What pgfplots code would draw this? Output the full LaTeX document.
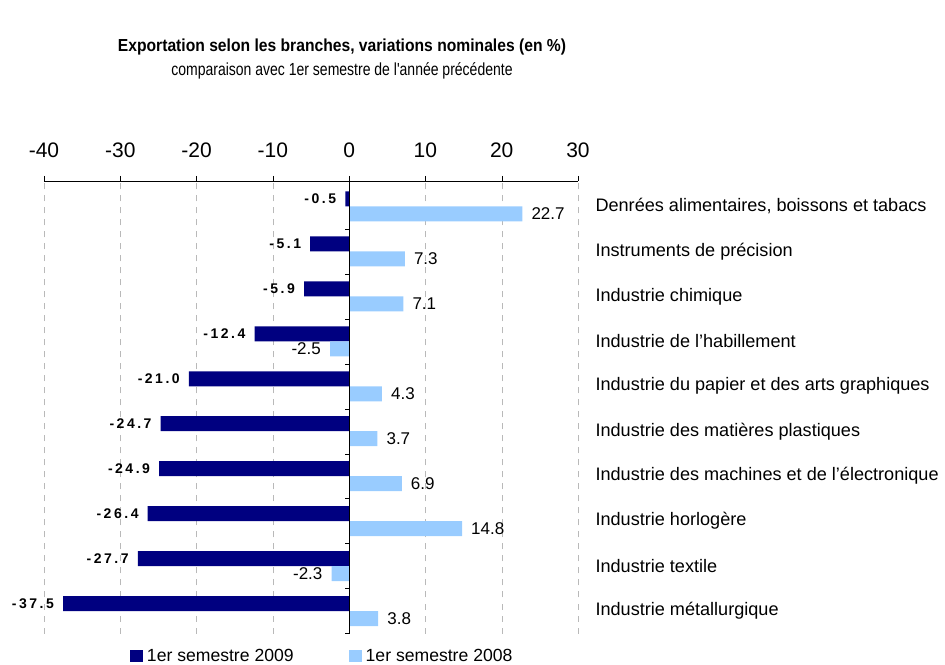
\documentclass[border=0pt]{standalone}
\usepackage{pgfplots}
\pgfplotsset{compat=1.18}
\usepackage{fontspec}
\setmainfont{Liberation Sans}
\newfontfamily\valfont[LetterSpace=18]{Liberation Sans Bold}
\newfontfamily\titlefont[FakeStretch=0.9]{Liberation Sans}
\newfontfamily\subfont[FakeStretch=0.8]{Liberation Sans}
\definecolor{navyb}{RGB}{0,0,128}
\definecolor{lightb}{RGB}{153,204,255}
\begin{document}
\begin{tikzpicture}[x=1pt,y=1pt]
\path[use as bounding box] (0,0) rectangle (945,664);
\node[font=\titlefont\fontsize{17.4}{19}\selectfont\bfseries] at (342,617) {Exportation selon les branches, variations nominales (en \%)};
\node[font=\subfont\fontsize{17.5}{19}\selectfont] at (342,593) {comparaison avec 1er semestre de l'année précédente};
\begin{axis}[
  at={(44pt,30.5pt)}, anchor=south west,
  scale only axis, width=534pt, height=452.5pt,
  clip=false,
  xmin=-40, xmax=30, ymin=-0.5, ymax=9.567,
  axis x line*=top, axis y line*=right,
  y axis line style={draw=none},
  xtick={-40,-30,...,30},
  tick align=outside, major tick length=5pt,
  xtick style={black, thin},
  x axis line style={black, thin},
  xticklabel style={font=\fontsize{21}{23}\selectfont, yshift=15pt},
  /pgf/number format/assume math mode=true,
  xmajorgrids, grid style={gray!55, dash pattern=on 6pt off 6pt},
  ytick={0,...,9},
  yticklabels={Industrie métallurgique, Industrie textile, Industrie horlogère, Industrie des machines et de l'électronique, Industrie des matières plastiques, Industrie du papier et des arts graphiques, Industrie de l'habillement, Industrie chimique, Instruments de précision, {Denrées alimentaires, boissons et tabacs}},
  ytick style={draw=none},
  yticklabel style={font=\fontsize{18.1}{20}\selectfont, xshift=9pt},
  xbar, bar width=15pt,
  point meta=x,
  nodes near coords={\pgfmathprintnumber[fixed,fixed zerofill,precision=1]{\pgfplotspointmeta}},
  legend style={draw=none, legend columns=2, at={(axis description cs:0.155,-0.049)}, anchor=west, font=\fontsize{17.6}{19}\selectfont, /tikz/every even column/.append style={column sep=53pt}},
  legend image code/.code={\fill[#1] (0pt,-6pt) rectangle (13pt,6pt);},
]
\addplot[draw=none, fill=navyb, bar shift=0pt,
  every node near coord/.append style={font=\valfont\fontsize{14}{16}\selectfont, inner xsep=9pt, inner ysep=0pt, black}]
  coordinates {(-0.5,9.167) (-5.1,8.167) (-5.9,7.167) (-12.4,6.167) (-21.0,5.167) (-24.7,4.167) (-24.9,3.167) (-26.4,2.167) (-27.7,1.167) (-37.5,0.167)};
\addplot[draw=none, fill=lightb, bar shift=0pt,
  every node near coord/.append style={font=\fontsize{17}{19}\selectfont, inner xsep=9pt, inner ysep=0pt, black}]
  coordinates {(22.7,8.833) (7.3,7.833) (7.1,6.833) (-2.5,5.833) (4.3,4.833) (3.7,3.833) (6.9,2.833) (14.8,1.833) (-2.3,0.833) (3.8,-0.167)};
\legend{\hspace{2pt}1er semestre 2009, \hspace{2pt}1er semestre 2008}
\draw[black, thin] (axis cs:0,-0.5) -- (axis cs:0,9.567);
\draw[black, thin] (axis cs:0,-0.5) -- ([xshift=-4pt]axis cs:0,-0.5);
\draw[black, thin] (axis cs:0,0.5) -- ([xshift=-4pt]axis cs:0,0.5);
\draw[black, thin] (axis cs:0,1.5) -- ([xshift=-4pt]axis cs:0,1.5);
\draw[black, thin] (axis cs:0,2.5) -- ([xshift=-4pt]axis cs:0,2.5);
\draw[black, thin] (axis cs:0,3.5) -- ([xshift=-4pt]axis cs:0,3.5);
\draw[black, thin] (axis cs:0,4.5) -- ([xshift=-4pt]axis cs:0,4.5);
\draw[black, thin] (axis cs:0,5.5) -- ([xshift=-4pt]axis cs:0,5.5);
\draw[black, thin] (axis cs:0,6.5) -- ([xshift=-4pt]axis cs:0,6.5);
\draw[black, thin] (axis cs:0,7.5) -- ([xshift=-4pt]axis cs:0,7.5);
\draw[black, thin] (axis cs:0,8.5) -- ([xshift=-4pt]axis cs:0,8.5);
\end{axis}
\end{tikzpicture}
\end{document}
